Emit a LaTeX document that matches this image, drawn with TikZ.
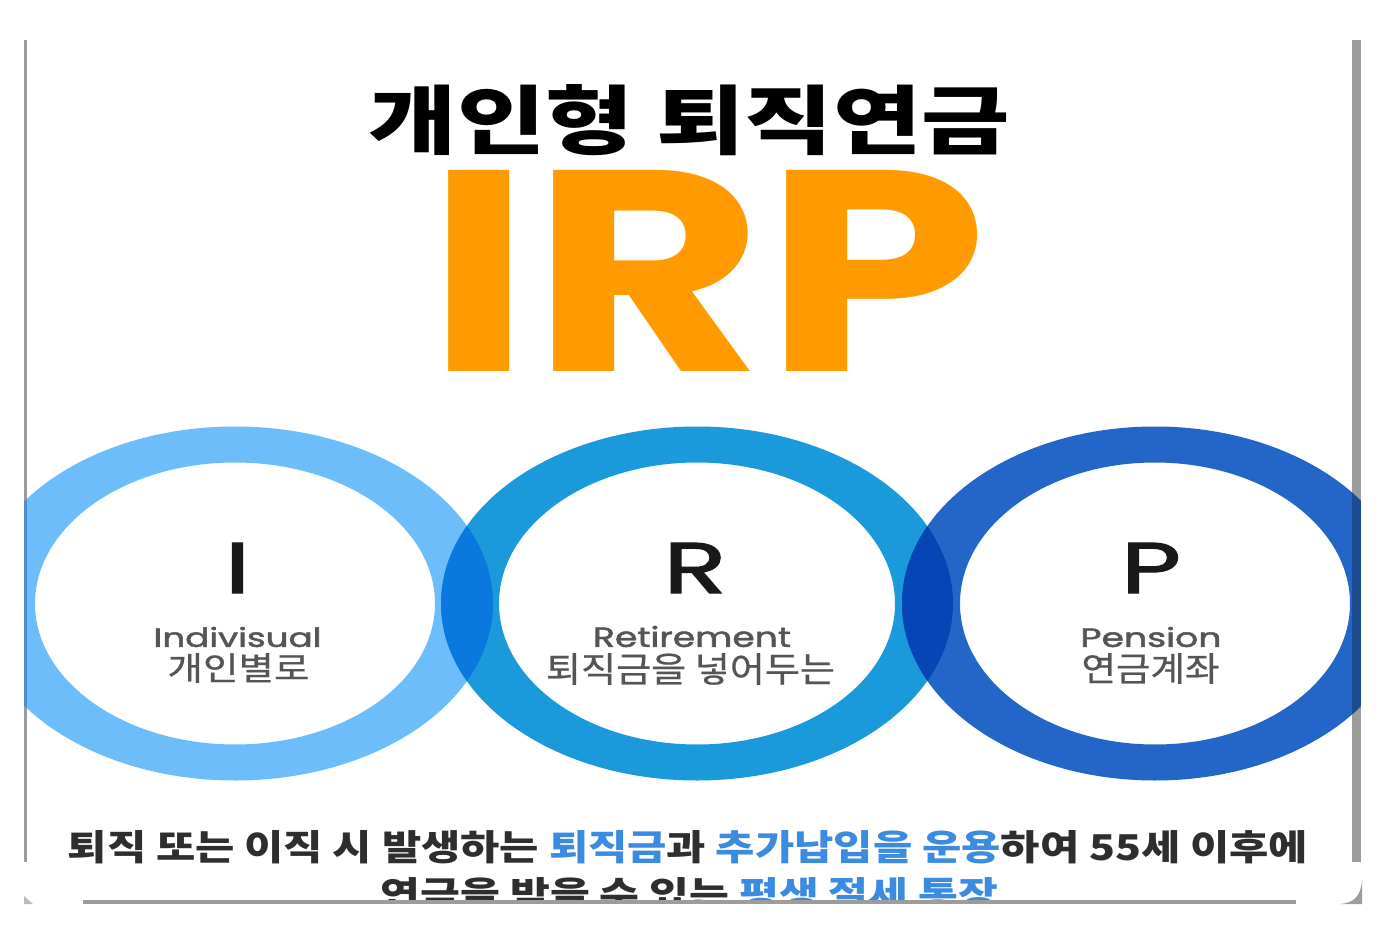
\documentclass[tikz,border=0pt]{standalone}
\usepackage{fontspec}
\usepackage{graphicx}
\newfontfamily\kr{Noto Sans CJK KR}
\newfontfamily\pop{Poppins}
\newfontfamily\popfb{Poppins}[FakeBold=1.6]
\newfontfamily\krm{Noto Sans CJK KR}[FakeBold=0.6]
\definecolor{cL}{HTML}{6CBDFA}
\definecolor{cM}{HTML}{1A9ADB}
\definecolor{cR}{HTML}{2366C7}
\definecolor{cLM}{HTML}{0B78DF}
\definecolor{cMR}{HTML}{0545B5}
\definecolor{orangeirp}{HTML}{FF9A00}
\definecolor{txtblue}{HTML}{3B8BE0}
\definecolor{txtdark}{HTML}{2E2E2E}
\definecolor{lblgray}{HTML}{555555}
\definecolor{edgegray}{HTML}{9C9C9C}
\definecolor{edgeLdark}{HTML}{4A8ED0}
\definecolor{edgeRdark}{HTML}{1C4B8F}
\begin{document}
\begin{tikzpicture}[x=1pt,y=-1pt,
  every node/.style={inner sep=0pt,outer sep=0pt},
  ringL/.style={insert path={(235,603.5) ellipse [x radius=258pt, y radius=177pt] (235,603.5) ellipse [x radius=200pt, y radius=141pt]}},
  ringM/.style={insert path={(697,603.5) ellipse [x radius=256pt, y radius=177pt] (697,603.5) ellipse [x radius=198pt, y radius=141pt]}},
  ringR/.style={insert path={(1155,603.5) ellipse [x radius=253pt, y radius=177pt] (1155,603.5) ellipse [x radius=195pt, y radius=141pt]}},
  lbl/.style={text=lblgray},
  letter/.style={text=black!90}]
\useasboundingbox[fill=white] (0,0) rectangle (1398,941);

% rings
\begin{scope}
  \clip (24,0) rectangle (1360,941);
  \fill[cL, even odd rule, ringL];
  \fill[cM, even odd rule, ringM];
  \fill[cR, even odd rule, ringR];
  \begin{scope}[even odd rule]
    \clip (235,603.5) ellipse [x radius=258pt, y radius=177pt] (235,603.5) ellipse [x radius=200pt, y radius=141pt];
    \fill[cLM, ringM];
  \end{scope}
  \begin{scope}[even odd rule]
    \clip (697,603.5) ellipse [x radius=256pt, y radius=177pt] (697,603.5) ellipse [x radius=198pt, y radius=141pt];
    \fill[cMR, ringR];
  \end{scope}
\end{scope}

% frame edges
\fill[edgegray] (24,40) rectangle (27,862);
\fill[edgegray] (1352,40) rectangle (1361,862);
\begin{scope}[even odd rule]
  \clip (235,603.5) ellipse [x radius=258pt, y radius=177pt] (235,603.5) ellipse [x radius=200pt, y radius=141pt];
  \fill[edgeLdark] (24,40) rectangle (27,862);
\end{scope}
\begin{scope}[even odd rule]
  \clip (1155,603.5) ellipse [x radius=253pt, y radius=177pt] (1155,603.5) ellipse [x radius=195pt, y radius=141pt];
  \fill[edgeRdark] (1352,40) rectangle (1361,862);
\end{scope}

% title
\node (title) at (689.5,120) {\resizebox{641pt}{64pt}{\kr\bfseries 개인형 퇴직연금}};
\node[text=orangeirp] (irp) at (707,270.5) {\resizebox{560pt}{201pt}{\pop\bfseries IRP}};

% ring letters
\node[letter] (lI) at (237.5,568) {\scalebox{1.45}[1]{\resizebox{!}{50pt}{\popfb I}}};
\node[letter] (lR) at (695,568) {\scalebox{1.45}[1]{\resizebox{!}{50pt}{\popfb R}}};
\node[letter] (lP) at (1151,568) {\scalebox{1.45}[1]{\resizebox{!}{50pt}{\popfb P}}};

% ring labels
\node[lbl] (en1) at (237.5,637) {\resizebox{168pt}{20pt}{\popfb Indivisual}};
\node[lbl] (kr1) at (238.5,668) {\resizebox{142pt}{27pt}{\krm 개인별로}};
\node[lbl] (en2) at (692,636.5) {\resizebox{198pt}{21pt}{\popfb Retirement}};
\node[lbl] (kr2) at (690.5,669) {\resizebox{289pt}{29pt}{\krm 퇴직금을 넣어두는}};
\node[lbl] (en3) at (1151,637) {\resizebox{141pt}{20pt}{\popfb Pension}};
\node[lbl] (kr3) at (1150.5,668.5) {\resizebox{138pt}{28pt}{\krm 연금계좌}};

% bottom text
\node (line1) at (688,847) {\resizebox{1240pt}{30pt}{\kr\bfseries\color{txtdark}퇴직 또는 이직 시 발생하는 \textcolor{txtblue}{퇴직금}과 \textcolor{txtblue}{추가납입을 운용}하여 55세 이후에}};
\begin{scope}
  \clip (0,0) rectangle (1398,902);
  \node (line2) at (689.5,894) {\resizebox{617pt}{30pt}{\kr\bfseries\color{txtdark}연금을 받을 수 있는 \textcolor{txtblue}{평생 절세 통장}}};
\end{scope}

% bottom edge pieces
\fill[edgegray] (83,900) rectangle (1296,904);
\fill[edgegray!70] (24,896) -- (33,904) -- (24,904) -- cycle;
\fill[edgegray] (1362,880) -- (1362,904) -- (1340,904) .. controls (1354,903) and (1361,896) .. (1362,880) -- cycle;
\end{tikzpicture}
\end{document}
